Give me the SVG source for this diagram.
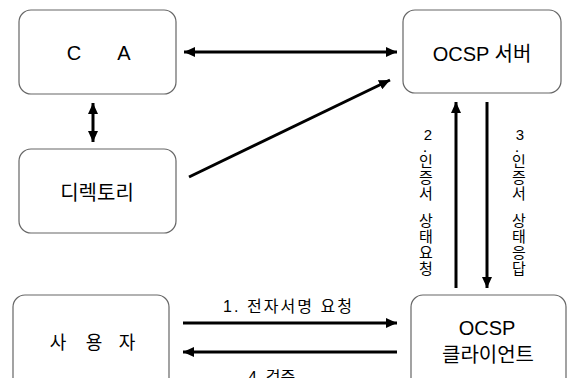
<svg xmlns="http://www.w3.org/2000/svg" width="569" height="378" viewBox="0 0 569 378">
<style>
.box{fill:#fff;stroke:#666;stroke-width:1.2}
text{font-family:"Liberation Sans","Noto Sans CJK KR",sans-serif;fill:#000}
.t{font-size:20px;text-anchor:middle}
.s{font-size:16px}
.v{font-size:15px;text-anchor:middle}
.d{font-size:11px;font-weight:bold}
.c{stroke:#000;stroke-width:3;fill:none}
</style>
<defs>
<marker id="ah" markerUnits="userSpaceOnUse" markerWidth="12" markerHeight="10" refX="11" refY="5" orient="auto-start-reverse">
<path d="M0,0 L11,5 L0,10 z" fill="#000"/>
</marker>
</defs>
<rect width="569" height="378" fill="#fff"/>
<g id="ca"><rect class="box" x="19" y="10" width="157" height="84" rx="12"/><text class="t" y="60"><tspan x="74">C</tspan><tspan x="124">A</tspan></text></g>
<g id="ocsp-server"><rect class="box" x="403" y="10" width="158" height="83" rx="12"/><text class="t" x="482" y="61">OCSP 서버</text></g>
<g id="directory"><rect class="box" x="19" y="149" width="157" height="84" rx="12"/><text class="t" x="97" y="200">디렉토리</text></g>
<g id="user"><rect class="box" x="13" y="295" width="156" height="100" rx="12"/><text class="t" y="349" style="font-size:18px"><tspan x="58">사</tspan><tspan x="94">용</tspan><tspan x="127">자</tspan></text></g>
<g id="ocsp-client"><rect class="box" x="411" y="295" width="155" height="100" rx="12"/><text class="t" x="487" y="335">OCSP</text><text class="t" x="488" y="362">클라이언트</text></g>
<g id="connectors">
<line class="c" x1="184" y1="52" x2="397" y2="52" marker-start="url(#ah)" marker-end="url(#ah)"/>
<line class="c" x1="93" y1="103" x2="93" y2="142" marker-start="url(#ah)" marker-end="url(#ah)"/>
<line class="c" x1="189" y1="177" x2="390" y2="80" marker-end="url(#ah)"/>
<line class="c" x1="456" y1="288" x2="456" y2="102" marker-end="url(#ah)"/>
<line class="c" x1="487" y1="102" x2="487" y2="288" marker-end="url(#ah)"/>
<line class="c" x1="183" y1="323" x2="397" y2="323" marker-end="url(#ah)"/>
<line class="c" x1="397" y1="352" x2="183" y2="352" marker-end="url(#ah)"/>
</g>
<g id="labels">
<text class="s" x="223" y="312" textLength="129" lengthAdjust="spacing">1. 전자서명 요청</text>
<text class="s" x="248" y="383">4. 검증</text>
<text class="v"><tspan x="428" y="140">2</tspan><tspan class="d" x="425" y="152">.</tspan><tspan x="426" y="167">인</tspan><tspan x="426" y="183">증</tspan><tspan x="426" y="199">서</tspan><tspan x="426" y="226">상</tspan><tspan x="426" y="242">태</tspan><tspan x="426" y="258">요</tspan><tspan x="426" y="274">청</tspan></text>
<text class="v"><tspan x="520" y="140">3</tspan><tspan class="d" x="517" y="152">.</tspan><tspan x="519" y="167">인</tspan><tspan x="519" y="183">증</tspan><tspan x="519" y="199">서</tspan><tspan x="519" y="226">상</tspan><tspan x="519" y="242">태</tspan><tspan x="519" y="258">응</tspan><tspan x="519" y="274">답</tspan></text>
</g>
</svg>
